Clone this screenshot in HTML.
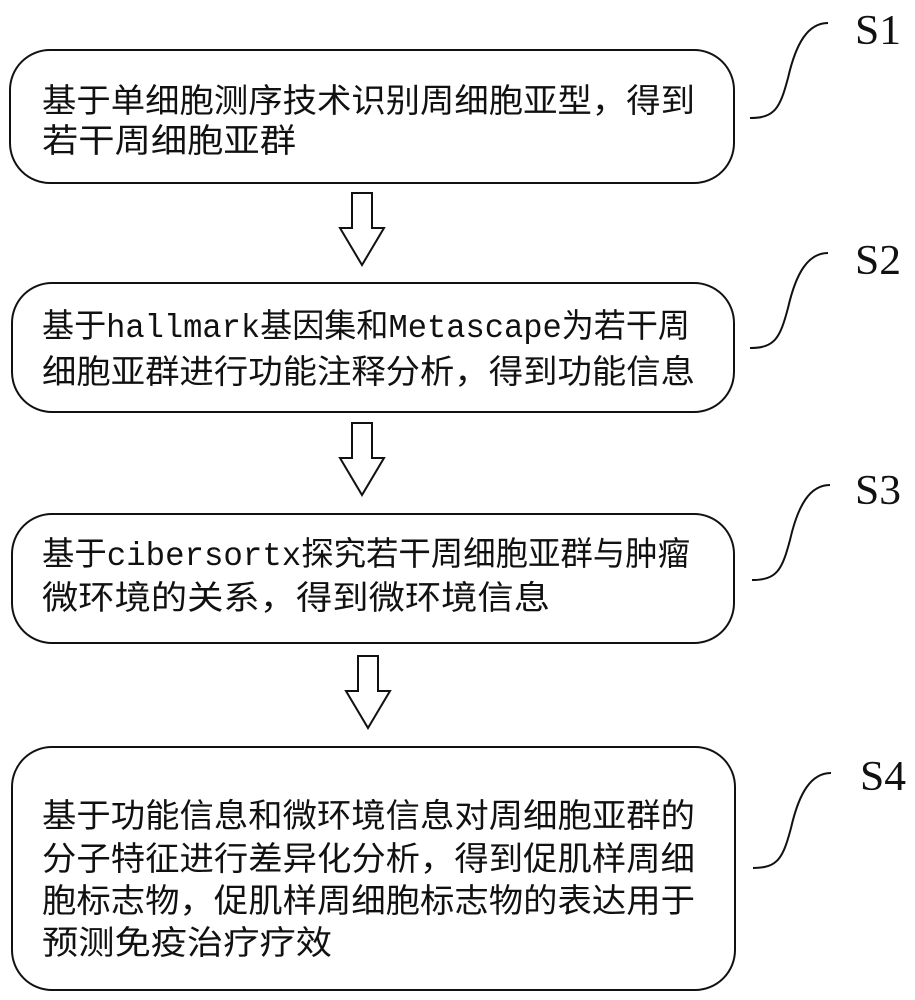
<!DOCTYPE html>
<html><head><meta charset="utf-8"><style>
html,body{margin:0;padding:0;background:#fff;width:915px;height:1000px;overflow:hidden}
text{font-family:"Liberation Sans","Noto Sans CJK SC",sans-serif;fill:#111}
</style></head><body>
<svg width="915" height="1000" viewBox="0 0 915 1000" xmlns="http://www.w3.org/2000/svg">
<g fill="none" stroke="#111" stroke-width="2">
<rect x="10" y="50" width="724" height="133" rx="40"/>
<rect x="12" y="283" width="722" height="129" rx="40"/>
<rect x="12" y="514" width="722" height="129" rx="40"/>
<rect x="12" y="747" width="723" height="243" rx="40"/>
<path d="M352 193 h20 v35 h12 l-22 37 l-22 -37 h12 z"/>
<path d="M352 423 h20 v35 h12 l-22 37 l-22 -37 h12 z"/>
<path d="M358 656 h20 v35 h12 l-22 37 l-22 -37 h12 z"/>
<path d="M750 118 c25 0 30 -10 38 -40 c8 -35 20 -55 40 -55"/>
<path d="M750 348 c25 0 30 -10 38 -40 c8 -35 20 -55 40 -55"/>
<path d="M752 580 c25 0 30 -10 38 -40 c8 -35 20 -55 40 -55"/>
<path d="M753 868 c25 0 30 -10 38 -40 c8 -35 20 -55 40 -55"/>
</g>
<g font-size="42">
<text x="855" y="44" textLength="46" lengthAdjust="spacingAndGlyphs" style="font-family:'Liberation Serif',serif">S1</text>
<text x="855" y="274" textLength="46" lengthAdjust="spacingAndGlyphs" style="font-family:'Liberation Serif',serif">S2</text>
<text x="855" y="504" textLength="46" lengthAdjust="spacingAndGlyphs" style="font-family:'Liberation Serif',serif">S3</text>
<text x="860" y="790" textLength="46" lengthAdjust="spacingAndGlyphs" style="font-family:'Liberation Serif',serif">S4</text>
</g>
<g font-size="33">
<text x="42" y="112" textLength="653" lengthAdjust="spacingAndGlyphs">基于单细胞测序技术识别周细胞亚型，得到</text>
<text x="42" y="152" textLength="254" lengthAdjust="spacingAndGlyphs">若干周细胞亚群</text>
<text x="42" y="337" textLength="648" lengthAdjust="spacingAndGlyphs">基于<tspan style="font-family:'Liberation Mono',monospace">hallmark</tspan>基因集和<tspan style="font-family:'Liberation Mono',monospace">Metascape</tspan>为若干周</text>
<text x="42" y="383" textLength="653" lengthAdjust="spacingAndGlyphs">细胞亚群进行功能注释分析，得到功能信息</text>
<text x="42" y="565" textLength="648" lengthAdjust="spacingAndGlyphs">基于<tspan style="font-family:'Liberation Mono',monospace">cibersortx</tspan>探究若干周细胞亚群与肿瘤</text>
<text x="42" y="609" textLength="508" lengthAdjust="spacingAndGlyphs">微环境的关系，得到微环境信息</text>
<text x="42" y="827" textLength="653" lengthAdjust="spacingAndGlyphs">基于功能信息和微环境信息对周细胞亚群的</text>
<text x="42" y="870" textLength="653" lengthAdjust="spacingAndGlyphs">分子特征进行差异化分析，得到促肌样周细</text>
<text x="42" y="912" textLength="653" lengthAdjust="spacingAndGlyphs">胞标志物，促肌样周细胞标志物的表达用于</text>
<text x="42" y="954" textLength="290" lengthAdjust="spacingAndGlyphs">预测免疫治疗疗效</text>
</g>
</svg>
</body></html>
